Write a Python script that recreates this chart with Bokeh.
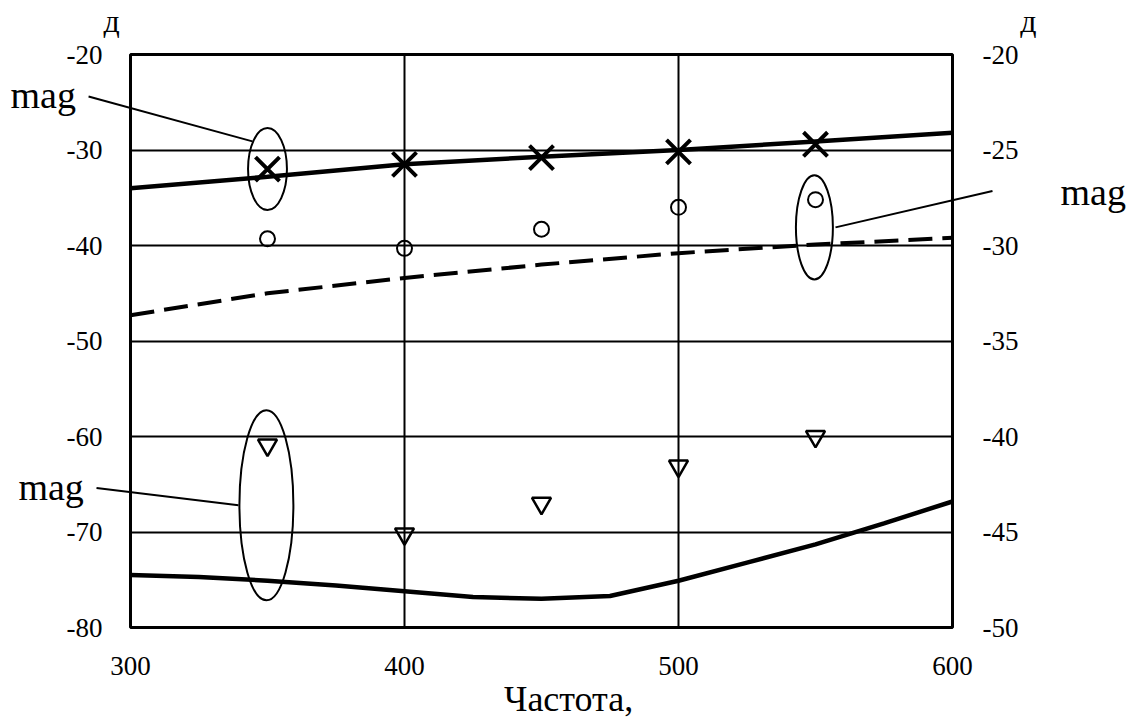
from bokeh.plotting import figure
from bokeh.models import Range1d, LinearAxis, FixedTicker
from bokeh.core.properties import value
from bokeh.embed import file_html
from bokeh.resources import INLINE

# ---------------- data ----------------
freq_pts = [350, 400, 450, 500, 550]
mag_cross = [-32.0, -31.5, -30.8, -30.2, -29.4]
mag_circle = [-39.3, -40.3, -38.3, -36.0, -35.2]
mag_triangle = [-60.9, -70.2, -67.0, -63.1, -60.0]

curve_freq = [300, 350, 400, 450, 500, 550, 600]
curve_top = [-34.0, -32.8, -31.5, -30.7, -30.0, -29.1, -28.2]
curve_dashed = [-47.3, -45.0, -43.4, -42.0, -40.8, -39.9, -39.2]

curve_freq_fine = [300, 325, 350, 375, 400, 425, 450, 475, 500, 525, 550, 575, 600]
curve_bottom = [-74.5, -74.7, -75.1, -75.6, -76.2, -76.8, -77.0, -76.7,
                -75.1, -73.2, -71.3, -69.1, -66.8]

x_ticks = [300, 400, 500, 600]
left_ticks = [-80, -70, -60, -50, -40, -30, -20]
right_ticks = [-50, -45, -40, -35, -30, -25, -20]

ellipse_x = [350.0, 549.6, 349.6]
ellipse_y = [-32.0, -38.1, -67.2]
ellipse_w = [14.2, 13.5, 19.7]
ellipse_h = [8.6, 10.9, 19.9]

x_label = "Частота,"
unit_label = "д"
note_text = "mag"

SERIF = "Liberation Serif"

W, H = 1128, 720
p = figure(width=W, height=H, output_backend="svg", toolbar_location=None,
           x_range=Range1d(300, 600), y_range=Range1d(-80, -20),
           min_border_left=130, min_border_right=W - 952,
           min_border_top=54, min_border_bottom=H - 627,
           background_fill_color="white", border_fill_color="white",
           outline_line_color="black", outline_line_width=3)
p.extra_y_ranges = {"right": Range1d(-50, -20)}

def style_axis(ax, standoff, ticks, baseline=None):
    ax.major_tick_in = 0
    ax.major_tick_out = 0
    ax.minor_tick_in = 0
    ax.minor_tick_out = 0
    ax.axis_line_color = None
    ax.major_label_text_font = SERIF
    ax.major_label_text_font_size = "27px"
    ax.major_label_text_color = "black"
    ax.major_label_standoff = standoff
    ax.major_label_overrides = {t: str(t) for t in ticks}
    if baseline is not None:
        ax.major_label_text_baseline = baseline

p.xaxis.ticker = FixedTicker(ticks=x_ticks)
p.yaxis.ticker = FixedTicker(ticks=left_ticks)
style_axis(p.xaxis[0], 29, x_ticks)
style_axis(p.yaxis[0], 28, left_ticks, "hanging")

raxis = LinearAxis(y_range_name="right", ticker=FixedTicker(ticks=right_ticks))
style_axis(raxis, 30, right_ticks, "hanging")
p.add_layout(raxis, "right")

p.xgrid.ticker = FixedTicker(ticks=x_ticks)
p.ygrid.ticker = FixedTicker(ticks=left_ticks)
for g in (p.xgrid[0], p.ygrid[0]):
    g.grid_line_color = "black"
    g.grid_line_width = 2
    g.grid_line_alpha = 1.0

# curves
p.line(curve_freq, curve_top, line_color="black", line_width=4.5)
p.line(curve_freq, curve_dashed, line_color="black", line_width=4, line_dash="24 10")
p.line(curve_freq_fine, curve_bottom, line_color="black", line_width=4.5)

# markers
p.scatter(freq_pts, mag_cross, marker="x", size=34, line_color="black", line_width=4)
p.scatter(freq_pts, mag_circle, marker="circle", size=15, fill_color=None,
          line_color="black", line_width=2)
p.scatter(freq_pts, mag_triangle, marker="inverted_triangle", size=19, fill_color=None,
          line_color="black", line_width=2.5)

# ellipses
p.ellipse(x=ellipse_x, y=ellipse_y, width=ellipse_w, height=ellipse_h,
          fill_color=None, line_color="black", line_width=2)

# leader lines (drawn on the overlay level so they may leave the frame)
p.segment(x0=[284.7, 557.3, 287.6], y0=[-24.4, -38.1, -65.4],
          x1=[344.5, 614.6, 339.4], y1=[-29.1, -34.3, -67.2],
          line_color="black", line_width=2, level="overlay")

# texts
def add_text(xs, ys, texts, size, align="left"):
    p.text(x=xs, y=ys, text=texts, text_font=value(SERIF),
           text_font_size=value(size), text_color="black",
           text_align=align, text_baseline="alphabetic", level="overlay")

add_text([256.2, 639.4, 259.1], [-24.2, -34.35, -65.25], [note_text] * 3, "38px")
add_text([459.9], [-87.45], [x_label], "36px", "center")
add_text([293.1, 627.7], [-16.45, -16.45], [unit_label] * 2, "32px", "center")

open("out.html", "w").write(file_html(p, INLINE))
